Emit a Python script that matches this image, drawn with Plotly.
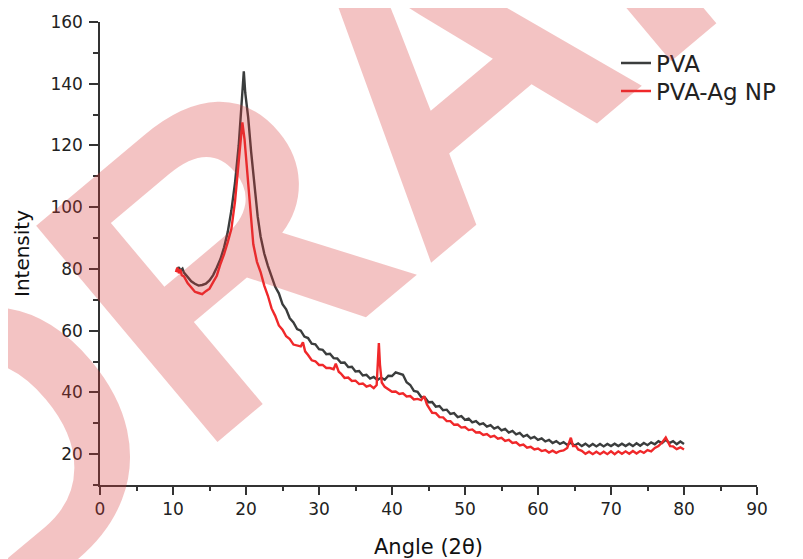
import plotly.graph_objects as go

# ---------------- data ----------------
pva_angle = [10.5, 10.8, 11.0, 11.3, 11.5, 12.0, 12.5, 13.0, 13.5, 14.0, 14.5, 15.0, 15.5, 16.0,
             16.5, 17.0, 17.5, 18.0, 18.5, 19.0, 19.3, 19.5, 19.7, 19.9, 20.3, 20.7, 21.2, 21.6,
             22.0, 22.5, 23.0,
             23.5, 24.0, 24.5, 25.0, 25.5, 26.0, 26.5, 27.0, 27.5, 28.0, 28.5, 29.0, 29.5, 30.0,
             30.5, 31.0, 31.5, 32.0, 32.5, 33.0, 33.5, 34.0, 34.5, 35.0, 35.5, 36.0, 36.5, 37.0,
             37.5, 38.0, 38.5, 39.0, 39.5, 40.0, 40.5, 41.0, 41.5, 42.0, 42.5, 43.0, 43.5, 44.0,
             44.5, 45.0, 45.5, 46.0, 46.5, 47.0, 47.5, 48.0, 48.5, 49.0, 49.5, 50.0, 50.5, 51.0,
             51.5, 52.0, 52.5, 53.0, 53.5, 54.0, 54.5, 55.0, 55.5, 56.0, 56.5, 57.0, 57.5, 58.0,
             58.5, 59.0, 59.5, 60.0, 60.5, 61.0, 61.5, 62.0, 62.5, 63.0, 63.5, 64.0, 64.5, 65.0,
             65.5, 66.0, 66.5, 67.0, 67.5, 68.0, 68.5, 69.0, 69.5, 70.0, 70.5, 71.0, 71.5, 72.0,
             72.5, 73.0, 73.5, 74.0, 74.5, 75.0, 75.5, 76.0, 76.5, 77.0, 77.5, 78.0, 78.5, 79.0,
             79.5, 80.0]
pva_intensity = [79.5, 80.6, 79.4, 80.1, 78.8, 77.2, 76.0, 75.2, 74.6, 74.8, 75.2, 76.3, 78.0, 80.5,
                 83.2, 87.0, 92.0, 99.0, 108.0, 120.0, 130.0, 138.0, 144.0, 137.0, 129.0, 118.0, 107.0, 97.0,
                 90.5, 85.0, 81.0,
                 77.9, 74.2, 72.1, 68.6, 66.9, 64.0, 62.7, 60.5, 60.0, 58.1, 57.6, 55.8, 55.6, 54.0,
                 53.8, 52.4, 52.5, 51.1, 51.0, 49.6, 49.7, 48.2, 48.3, 46.8, 46.9, 45.5, 45.7, 44.5,
                 45.0, 44.0, 44.8, 44.1, 45.4, 45.3, 46.5, 46.0, 45.7, 43.3, 42.4, 40.5, 40.2, 38.5,
                 38.4, 36.8, 36.9, 35.4, 35.6, 34.2, 34.4, 33.0, 33.3, 32.0, 32.3, 31.1, 31.5, 30.3,
                 30.7, 29.6, 30.0, 28.9, 29.4, 28.3, 28.8, 27.7, 28.2, 27.0, 27.5, 26.4, 26.9, 25.7,
                 26.2, 25.1, 25.6, 24.6, 25.1, 24.1, 24.6, 23.6, 24.2, 23.3, 23.9, 23.0, 23.7, 22.8,
                 23.5, 22.6, 23.4, 22.5, 23.3, 22.5, 23.3, 22.5, 23.3, 22.6, 23.4, 22.6, 23.4, 22.6,
                 23.4, 22.6, 23.5, 22.7, 23.6, 22.9, 23.8, 23.2, 24.2, 23.6, 24.6, 23.6, 24.2, 23.2,
                 24.1, 23.3]

ag_angle = [10.4, 10.6, 10.8, 11.0, 11.2, 11.5, 12.0, 12.5, 13.0, 13.5, 14.0, 14.5, 15.0, 15.5,
            16.0, 16.5, 17.0, 17.5, 18.0, 18.5, 18.8, 19.2, 19.5, 19.8, 20.1, 20.4, 20.7, 21.0,
            21.5, 22.0, 22.5, 23.0, 23.5, 24.0, 24.5, 25.0, 25.5, 26.0, 26.5, 27.0, 27.5, 27.8,
            28.1, 28.5, 29.0, 29.5, 30.0, 30.5, 31.0, 31.5, 32.0, 32.3, 32.7, 33.0, 33.5, 34.0,
            34.5, 35.0, 35.5, 36.0, 36.5, 37.0, 37.5, 37.9, 38.1, 38.2, 38.35, 38.6, 39.0, 39.5,
            40.0, 40.5, 41.0, 41.5, 42.0, 42.5, 43.0, 43.5, 44.0, 44.4, 44.8, 45.2, 45.5, 46.0,
            46.5, 47.0, 47.5, 48.0, 48.5, 49.0, 49.5, 50.0, 50.5, 51.0, 51.5, 52.0, 52.5, 53.0,
            53.5, 54.0, 54.5, 55.0, 55.5, 56.0, 56.5, 57.0, 57.5, 58.0, 58.5, 59.0, 59.5, 60.0,
            60.5, 61.0, 61.5, 62.0, 62.5, 63.0, 63.5, 64.0, 64.5, 64.8, 65.2, 65.5, 66.0, 66.5,
            67.0, 67.5, 68.0, 68.5, 69.0, 69.5, 70.0, 70.5, 71.0, 71.5, 72.0, 72.5, 73.0, 73.5,
            74.0, 74.5, 75.0, 75.5, 76.0, 76.5, 77.0, 77.5, 77.8, 78.1, 78.5, 79.0, 79.5, 80.0]
ag_intensity = [79.0, 80.4, 78.6, 79.8, 78.0, 77.6, 75.4, 74.1, 72.6, 72.2, 71.8, 72.8, 73.6, 75.7,
                77.8, 81.6, 84.8, 88.7, 93.0, 102.0, 109.0, 120.0, 127.5, 122.0, 113.0, 104.0, 95.0, 88.0,
                82.3, 79.0, 74.6, 71.3, 67.2, 64.8, 61.7, 60.3, 58.2, 57.3, 55.5, 55.1, 54.9, 56.2,
                53.3, 52.1, 50.4, 50.1, 48.9, 48.9, 47.9, 47.9, 47.5, 49.3, 46.7, 46.1, 44.7, 44.8,
                43.7, 43.8, 42.7, 42.9, 41.9, 42.3, 41.4, 42.4, 50.0, 56.0, 49.0, 43.2, 41.8, 41.1,
                40.2, 40.3, 39.5, 39.7, 38.7, 38.8, 37.7, 37.9, 37.5, 38.8, 36.0, 34.5, 33.4, 33.3,
                32.0, 31.9, 30.7, 30.7, 29.5, 29.6, 28.6, 28.8, 27.8, 28.0, 27.0, 27.1, 26.2, 26.5,
                25.6, 25.9, 25.0, 25.3, 24.3, 24.6, 23.6, 23.8, 22.8, 23.1, 22.1, 22.4, 21.5, 21.8,
                21.0, 21.3, 20.5, 21.1, 20.4, 21.0, 21.2, 22.0, 25.3, 22.6, 22.6, 21.5, 21.1, 20.1,
                20.8, 20.0, 20.8, 20.0, 20.8, 20.0, 20.9, 20.0, 20.9, 20.1, 20.9, 20.1, 21.0, 20.2,
                21.0, 20.4, 21.3, 20.9, 22.0, 22.6, 23.8, 25.4, 24.0, 22.6, 22.5, 21.6, 22.2, 21.5]

series_names = ["PVA", "PVA-Ag NP"]
x_ticks = [0, 10, 20, 30, 40, 50, 60, 70, 80, 90]
y_ticks = [20, 40, 60, 80, 100, 120, 140, 160]
x_title = "Angle (2θ)"
y_title = "Intensity"
watermark_text = "DRAFT"

# ---------------- figure ----------------
# the page body has an 8px margin, so the figure is shrunk/offset to land on the
# reference pixel positions (plot area 100..757 x 22..485 in page pixels)
OFF = 8
W, H = 803 - OFF, 559 - OFF
ML, MR, MT, MB = 100 - OFF, 46, 22 - OFF, 74
FONT = "DejaVu Sans, Arial, sans-serif"


def px_x(p):
    return (p - OFF - ML) / (W - ML - MR)


def px_y(p):
    return (H - MB - (p - OFF)) / (H - MT - MB)


fig = go.Figure()
fig.add_trace(go.Scatter(x=pva_angle, y=pva_intensity, mode="lines", name=series_names[0],
                         line=dict(color="#3b3d3d", width=2.4), legend="legend"))
fig.add_trace(go.Scatter(x=ag_angle, y=ag_intensity, mode="lines", name=series_names[1],
                         line=dict(color="#f0282a", width=2.4), legend="legend2"))

fig.add_annotation(text=watermark_text, xref="paper", yref="paper",
                   x=px_x(410), y=px_y(95), xanchor="center", yanchor="middle",
                   showarrow=False, textangle=-40,
                   font=dict(family="Liberation Sans, Arial", size=410,
                             color="rgba(215,55,55,0.3)", weight="bold"))

axis_common = dict(showline=True, linecolor="#333333", linewidth=1.5, ticks="outside",
                   tickcolor="#333333", tickwidth=1.5, showgrid=False, zeroline=False,
                   automargin=False, mirror=False,
                   tickfont=dict(family=FONT, size=17, color="#222222"))

legend_common = dict(xanchor="left", yanchor="middle", bgcolor="rgba(0,0,0,0)", borderwidth=0,
                     font=dict(family=FONT, size=23, color="#222222"))

fig.update_layout(
    width=W, height=H,
    margin=dict(l=ML, r=MR, t=MT, b=MB),
    paper_bgcolor="white", plot_bgcolor="white",
    showlegend=True,
    legend=dict(x=px_x(616), y=px_y(63), **legend_common),
    legend2=dict(x=px_x(616), y=px_y(91), **legend_common),
    xaxis=dict(range=[0, 90], tickvals=x_ticks, ticklen=8,
               minor=dict(ticks="outside", dtick=5, tick0=0, ticklen=4,
                          tickcolor="#333333", tickwidth=1.5),
               title=dict(text=x_title, font=dict(family=FONT, size=21, color="#111111"),
                          standoff=22),
               **axis_common),
    yaxis=dict(range=[10, 160], tickvals=y_ticks, ticklen=9, ticklabelstandoff=3,
               minor=dict(ticks="outside", dtick=10, tick0=0, ticklen=5,
                          tickcolor="#333333", tickwidth=1.5),
               title=dict(text=y_title, font=dict(family=FONT, size=20, color="#111111"),
                          standoff=15),
               **axis_common),
)

fig.write_html("out.html")
